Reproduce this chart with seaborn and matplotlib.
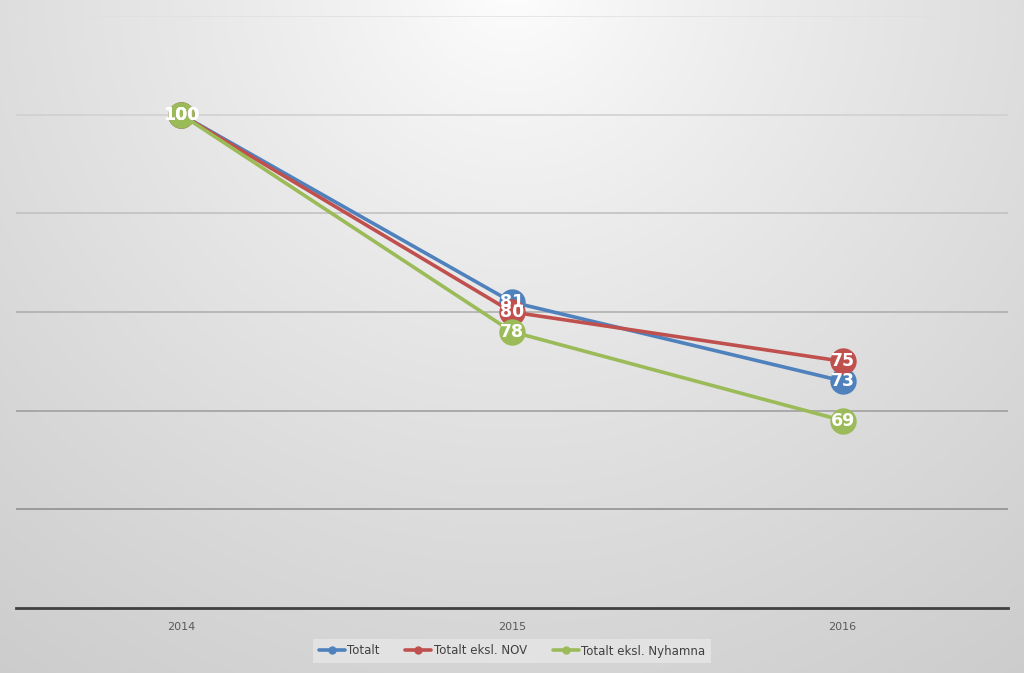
import numpy as np
import pandas as pd
import matplotlib
matplotlib.use("Agg")
import matplotlib.pyplot as plt
import seaborn as sns

years = ["2014", "2015", "2016"]
series_names = ["Totalt", "Totalt eksl. NOV", "Totalt eksl. Nyhamna"]
totalt = [100, 81, 73]
eksl_nov = [100, 80, 75]
eksl_nyhamna = [100, 78, 69]
colors = ["#4f81bd", "#c0504d", "#9bbb59"]
grid_levels = [60, 70, 80, 90, 100, 110]

rows = []
for name, vals in zip(series_names, [totalt, eksl_nov, eksl_nyhamna]):
    for i, (y, v) in enumerate(zip(years, vals)):
        rows.append({"year": y, "x": i, "value": v, "series": name})
df = pd.DataFrame(rows)

sns.set_theme(style="white")
plt.rcParams['font.family'] = ['DejaVu Sans']

W, H = 1024, 673
fig = plt.figure(figsize=(W / 100, H / 100), dpi=100)

# background radial gradient
bg = fig.add_axes([0, 0, 1, 1], zorder=-10)
yy, xx = np.mgrid[0:H, 0:W]
d = np.sqrt((xx - 512) ** 2 + (yy + 20) ** 2) / 850.0
val = 255 - 50 * np.clip(d, 0, 1.2) ** 0.8
img = np.dstack([val, val, val]) / 255.0
bg.imshow(np.clip(img, 0, 1), aspect="auto", extent=[0, 1, 0, 1], origin="upper")
bg.set_axis_off()

ax = fig.add_axes([16 / W, (H - 608) / H, (1008 - 16) / W, (608 - 16) / H])
ax.set_facecolor("none")

# gridlines, lighter toward the top
for lv in grid_levels:
    t = (110 - lv) / 50.0
    g = 0.88 - 0.34 * t
    ax.axhline(lv, color=(g, g, g), linewidth=1.1, zorder=0)

sns.lineplot(data=df, x="x", y="value", hue="series", palette=colors,
             hue_order=series_names, marker="o", markersize=19, markeredgewidth=0,
             linewidth=2.6, ax=ax, legend=False)

# data labels
for name, vals, c in zip(series_names, [totalt, eksl_nov, eksl_nyhamna], colors):
    for i, v in enumerate(vals):
        ax.text(i, v, str(v), color="white", fontsize=12.5, fontweight="bold",
                ha="center", va="center", zorder=5)

ax.set_xlim(-0.5, 2.5)
ax.set_ylim(50, 110)
ax.set_yticks([])
ax.set_xticks(range(len(years)))
ax.set_xticklabels(years, color="#595959", fontsize=8)
ax.tick_params(axis="x", length=0, pad=10)
ax.grid(False)
for s in ["top", "right", "left"]:
    ax.spines[s].set_visible(False)
ax.spines["bottom"].set_color("#404040")
ax.spines["bottom"].set_linewidth(2)
ax.set_xlabel("")
ax.set_ylabel("")

from matplotlib.lines import Line2D
handles = [Line2D([0], [0], color=c, lw=2.6, marker="o", markersize=5) for c in colors]
leg = fig.legend(handles, series_names, loc="center", bbox_to_anchor=(512 / W, (H - 651) / H),
                 ncol=3, frameon=True, fontsize=8.5, handlelength=2.2, handletextpad=0.2,
                 columnspacing=2.2, borderpad=0.45, fancybox=False)
leg.get_frame().set_facecolor("#e6e6e6")
leg.get_frame().set_edgecolor("none")
leg.get_frame().set_alpha(0.8)
for t in leg.get_texts():
    t.set_color("#404040")

fig.savefig("out.png", dpi=100)
